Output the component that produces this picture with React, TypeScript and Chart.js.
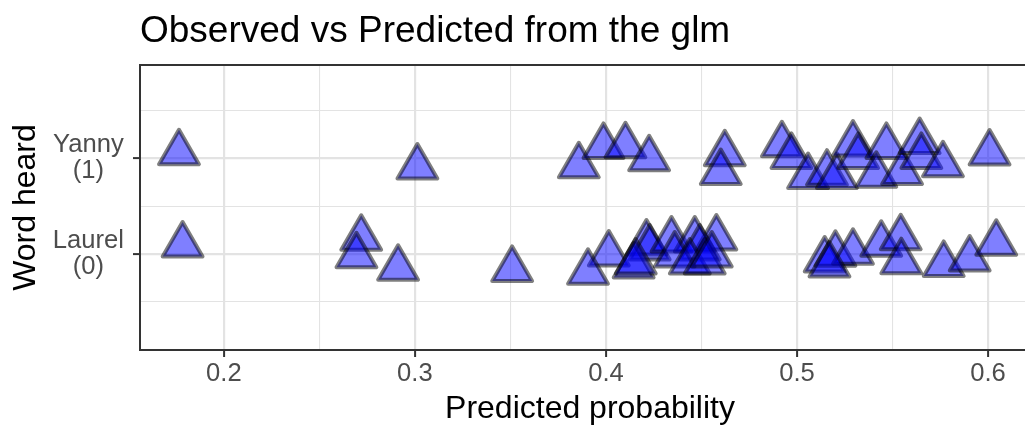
import React, { useEffect, useRef } from "react";
import { Chart, registerables } from "chart.js";

Chart.register(...registerables);

// Predicted probability and vertically jittered position for each response
const yannyProb = [
  0.1765, 0.3013, 0.3858, 0.3987, 0.4102, 0.4226, 0.4622, 0.4601, 0.4921, 0.4971,
  0.5058, 0.5157, 0.5209, 0.5293, 0.532, 0.5468, 0.5415, 0.555, 0.5642,
  0.5651, 0.5764, 0.6008,
];
const yannyJitter = [
  1.055, 0.906, 0.92, 1.121, 1.128, 0.993, 1.045, 0.85, 1.139, 1.017,
  0.808, 0.843, 0.808, 1.146, 1.017, 1.121, 0.82, 0.85, 1.173,
  1.017, 0.93, 1.052,
];
const laurelProb = [
  0.1784, 0.2719, 0.2694, 0.2912, 0.3509, 0.4015, 0.3906, 0.4212, 0.4229, 0.4145,
  0.4156, 0.4343, 0.4465, 0.4578, 0.4491, 0.436, 0.4439, 0.4517, 0.4554, 0.5145,
  0.5201, 0.5293, 0.5441, 0.5543, 0.5546, 0.5768, 0.5904, 0.6043, 0.517,
];
const laurelJitter = [
  0.094, 0.164, -0.018, -0.149, -0.16, 0.0, -0.19, 0.115, 0.063, -0.125,
  -0.084, 0.146, 0.146, 0.167, 0.063, -0.01, -0.084, -0.084, -0.01, -0.063,
  -0.003, 0.018, 0.101, 0.17, -0.08, -0.108, -0.052, 0.112, -0.115,
];

const xTicks = [0.2, 0.25, 0.3, 0.35, 0.4, 0.45, 0.5, 0.55, 0.6];
const yTicks = [-0.5, 0, 0.5, 1, 1.5];
const yLabels: Record<string, string[]> = { "0": ["Laurel", "(0)"], "1": ["Yanny", "(1)"] };

const TITLE = "Observed vs Predicted from the glm";
const FONT = "'Liberation Sans', Arial, Helvetica, sans-serif";
const W = 1045;
const H = 428;

const isMajor = (v: number) => Math.abs(v * 10 - Math.round(v * 10)) < 1e-6;
const isMajorY = (v: number) => Math.abs(v - Math.round(v)) < 1e-6;

const panelPlugin = {
  id: "panelDecor",
  beforeDatasetsDraw(chart: any) {
    chart.ctx.save();
    chart.ctx.lineJoin = "round";
  },
  afterDatasetsDraw(chart: any) {
    const { ctx, chartArea } = chart;
    ctx.restore();
    ctx.save();
    ctx.strokeStyle = "#333333";
    ctx.lineWidth = 2;
    ctx.strokeRect(chartArea.left, chartArea.top, chartArea.right - chartArea.left, chartArea.bottom - chartArea.top);
    ctx.restore();
  },
  afterDraw(chart: any) {
    const { ctx, chartArea } = chart;
    ctx.save();
    ctx.fillStyle = "#000000";
    ctx.font = `37px ${FONT}`;
    ctx.textAlign = "left";
    ctx.textBaseline = "alphabetic";
    ctx.fillText(TITLE, chartArea.left, 42);
    ctx.restore();
  },
};

const pointStyle = {
  pointStyle: "triangle" as const,
  pointRadius: 23,
  pointBackgroundColor: "rgba(0,0,255,0.5)",
  pointBorderColor: "rgba(0,0,0,0.5)",
  pointBorderWidth: 4,
  showLine: false,
};

export default function App() {
  const canvasRef = useRef<HTMLCanvasElement | null>(null);

  useEffect(() => {
    document.body.style.margin = "0";
    document.body.style.overflow = "hidden";
    const canvas = canvasRef.current;
    if (!canvas) return;
    const chart = new Chart(canvas, {
      type: "scatter",
      data: {
        datasets: [
          { label: "Laurel", data: laurelProb.map((x, i) => ({ x, y: laurelJitter[i] })), ...pointStyle },
          { label: "Yanny", data: yannyProb.map((x, i) => ({ x, y: yannyJitter[i] })), ...pointStyle },
        ],
      },
      options: {
        animation: false,
        responsive: false,
        devicePixelRatio: 1,
        layout: { autoPadding: false, padding: { top: 65, right: 5, left: 0, bottom: 0 } },
        plugins: { legend: { display: false }, tooltip: { enabled: false } },
        scales: {
          x: {
            type: "linear",
            min: 0.1561,
            max: 0.6272,
            afterBuildTicks: (scale: any) => {
              scale.ticks = xTicks.map((value) => ({ value }));
            },
            afterFit: (scale: any) => {
              scale.height = 78;
              scale.paddingLeft = 0;
              scale.paddingRight = 0;
            },
            border: { display: false },
            grid: {
              color: "#E3E3E3",
              lineWidth: (c: any) => (isMajor(c.tick.value) ? 2.2 : 1.1),
              tickColor: (c: any) => (isMajor(c.tick.value) ? "#333333" : "rgba(0,0,0,0)"),
              tickWidth: 2,
              tickLength: 7,
            },
            ticks: {
              autoSkip: false,
              maxRotation: 0,
              padding: 4,
              color: "#4D4D4D",
              font: { family: FONT, size: 25.6, lineHeight: 1.04 },
              callback: (v: any) => (isMajor(Number(v)) ? Number(v).toFixed(1) : ""),
            },
            title: {
              display: true,
              text: "Predicted probability",
              color: "#000000",
              font: { family: FONT, size: 32 },
              padding: { top: 0, bottom: 0 },
            },
          },
          y: {
            type: "linear",
            min: -1,
            max: 1.97,
            afterBuildTicks: (scale: any) => {
              scale.ticks = yTicks.map((value) => ({ value }));
            },
            afterFit: (scale: any) => {
              scale.width = 140;
              scale.paddingTop = 0;
              scale.paddingBottom = 0;
            },
            border: { display: false },
            grid: {
              color: "#E3E3E3",
              lineWidth: (c: any) => (isMajorY(c.tick.value) ? 2.2 : 1.1),
              tickColor: (c: any) => (isMajorY(c.tick.value) ? "#333333" : "rgba(0,0,0,0)"),
              tickWidth: 2,
              tickLength: 7,
            },
            ticks: {
              autoSkip: false,
              padding: 9,
              crossAlign: "center",
              color: "#4D4D4D",
              font: { family: FONT, size: 25.6, lineHeight: 1.04 },
              callback: (v: any) => yLabels[String(v)] ?? "",
            },
            title: {
              display: true,
              text: "Word heard",
              color: "#000000",
              font: { family: FONT, size: 32 },
              padding: { top: 7, bottom: 0 },
            },
          },
        },
      },
      plugins: [panelPlugin],
    });
    return () => chart.destroy();
  }, []);

  return (
    <div style={{ position: "fixed", left: 0, top: 0, width: 1025, height: H, overflow: "hidden", background: "#ffffff" }}>
      <canvas ref={canvasRef} width={W} height={H} style={{ display: "block", width: W, height: H }} />
    </div>
  );
}
